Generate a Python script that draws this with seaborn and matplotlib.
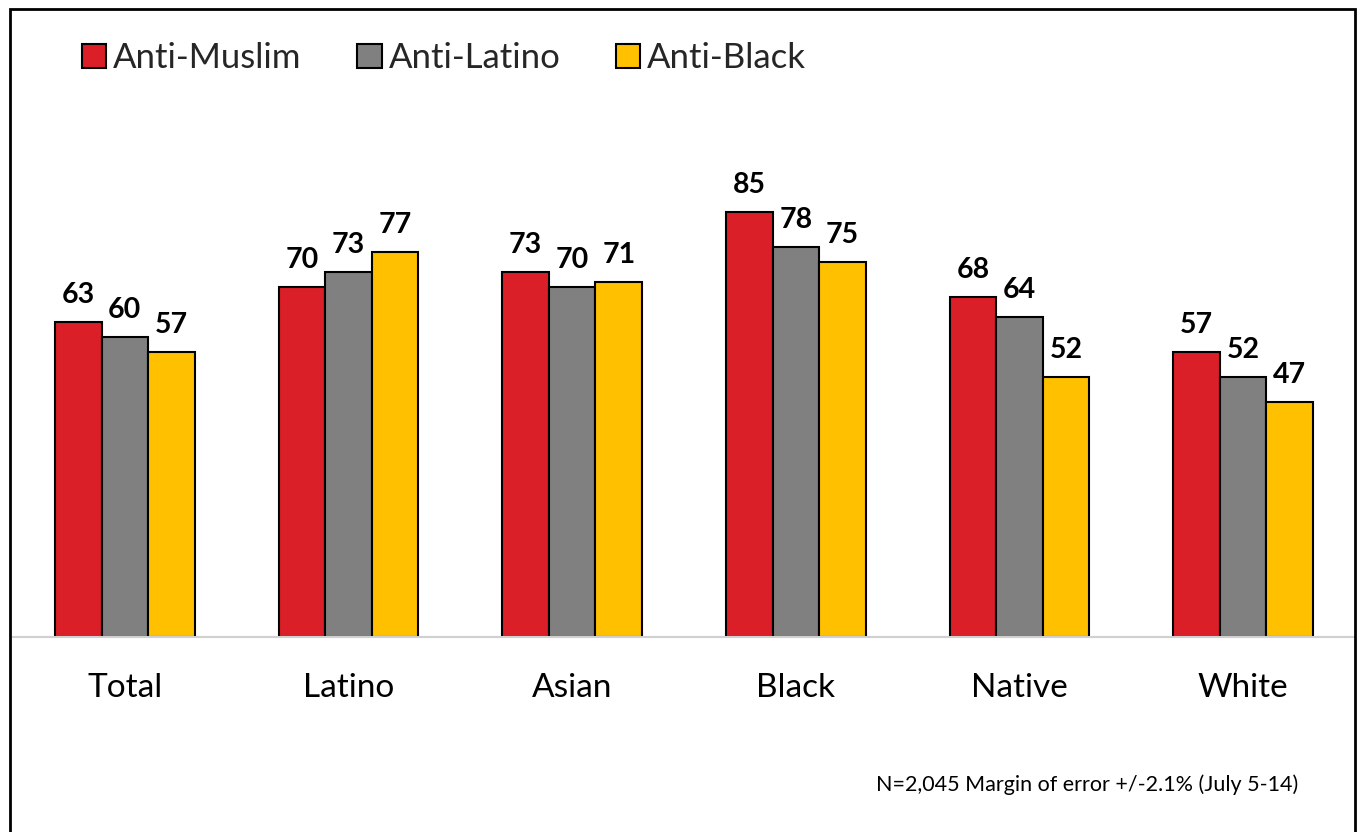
import matplotlib
matplotlib.use("Agg")
import matplotlib.pyplot as plt
import seaborn as sns
import pandas as pd
from matplotlib.patches import Rectangle, Patch

categories = ["Total", "Latino", "Asian", "Black", "Native", "White"]
series_names = ["Anti-Muslim", "Anti-Latino", "Anti-Black"]
anti_muslim = [63, 70, 73, 85, 68, 57]
anti_latino = [60, 73, 70, 78, 64, 52]
anti_black = [57, 77, 71, 75, 52, 47]
colors = ["#DA1F28", "#808080", "#FFC000"]
footnote = "N=2,045 Margin of error +/-2.1% (July 5-14)"

rows = []
for name, vals in zip(series_names, [anti_muslim, anti_latino, anti_black]):
    for c, v in zip(categories, vals):
        rows.append({"group": c, "series": name, "value": v})
df = pd.DataFrame(rows)

sns.set_theme(style="white")
plt.rcParams["font.family"] = ["Lato", "DejaVu Sans"]

W, H = 1359, 832
fig = plt.figure(figsize=(W / 100, H / 100), dpi=100)
ax = fig.add_axes([13 / W, 1 - 637 / H, (1355 - 13) / W, 500 / H])

sns.barplot(data=df, x="group", y="value", hue="series", order=categories,
            hue_order=series_names, palette=colors, width=0.625,
            edgecolor="black", linewidth=1.5, ax=ax, legend=False,
            saturation=1)

for cont in ax.containers:
    ax.bar_label(cont, fmt="%d", padding=10, fontsize=20.5, fontweight="bold",
                 color="black")

ax.set_ylim(0, 100)
ax.set_xlim(-0.5, len(categories) - 0.5)
ax.set_xlabel("")
ax.set_ylabel("")
ax.set_yticks([])
for s in ["top", "left", "right"]:
    ax.spines[s].set_visible(False)
ax.spines["bottom"].set_color("#D0D0D0")
ax.spines["bottom"].set_linewidth(1.5)
ax.tick_params(axis="x", length=0, pad=26, labelsize=24, labelcolor="black")

handles = [Patch(facecolor=c, edgecolor="black", linewidth=1.5) for c in colors]
fig.legend(handles, series_names, loc="upper left",
           bbox_to_anchor=(68 / W, 1 - 28 / H), ncol=3, frameon=False,
           fontsize=25, handlelength=0.7, handleheight=0.7,
           handletextpad=0.2, columnspacing=1.6, borderaxespad=0)

fig.text(1298 / W, 1 - 785 / H, footnote, ha="right", va="center",
         fontsize=15.5, color="black")

fig.patches.append(Rectangle((10 / W, -0.05), (1355 - 10) / W, 1.05 - 9 / H,
                             transform=fig.transFigure, fill=False,
                             edgecolor="black", linewidth=2))

fig.savefig("out.png", dpi=100, facecolor="white")
